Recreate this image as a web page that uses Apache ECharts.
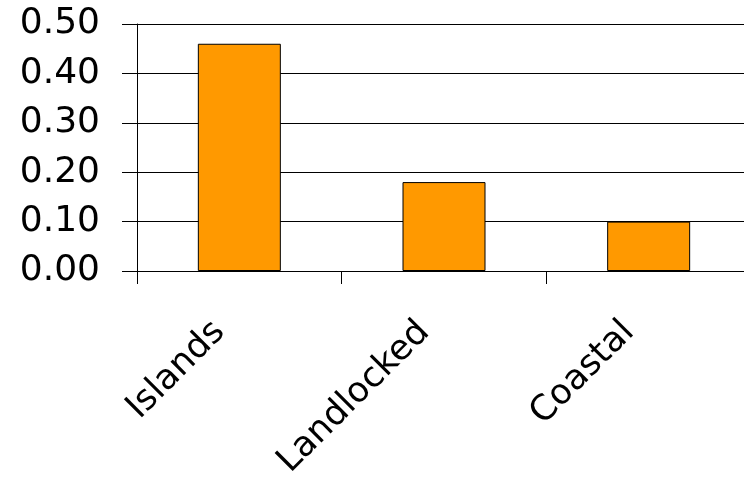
<!DOCTYPE html>
<html>
<head>
<meta charset="utf-8">
<script src="https://cdn.jsdelivr.net/npm/echarts@6/dist/echarts.min.js"></script>
<style>
html,body{margin:0;padding:0;background:#fff;overflow:hidden;}
#chart{width:744px;height:479px;}
</style>
</head>
<body>
<div id="chart"></div>
<script>
const categories = ['Islands', 'Landlocked', 'Coastal'];
const values = [0.46, 0.18, 0.10];
const yTicks = { min: 0, max: 0.5, interval: 0.1 };

const chart = echarts.init(document.getElementById('chart'), null, { renderer: 'canvas' });
chart.setOption({
  animation: false,
  backgroundColor: '#ffffff',
  grid: { left: 137, top: 24, bottom: 208, width: 614, containLabel: false, outerBoundsMode: 'none' },
  xAxis: {
    type: 'category',
    data: categories,
    boundaryGap: true,
    axisLine: { show: true, lineStyle: { color: '#000', width: 1 } },
    axisTick: { show: true, alignWithLabel: false, length: 13, inside: false, lineStyle: { color: '#000', width: 1 } },
    axisLabel: {
      interval: 0,
      rotate: 45,
      margin: 36,
      padding: [0, 28, 0, 0],
      color: '#000',
      fontFamily: 'DejaVu Sans',
      fontSize: 35
    },
    splitLine: { show: false }
  },
  yAxis: {
    type: 'value',
    min: yTicks.min,
    max: yTicks.max,
    interval: yTicks.interval,
    axisLine: { show: true, lineStyle: { color: '#000', width: 1 } },
    axisTick: { show: true, length: 15, lineStyle: { color: '#000', width: 1 } },
    axisLabel: {
      margin: 37,
      color: '#000',
      fontFamily: 'DejaVu Sans',
      fontSize: 36,
      formatter: v => v.toFixed(2)
    },
    splitLine: { show: true, lineStyle: { color: '#000', width: 1 } }
  },
  series: [{
    type: 'bar',
    data: values,
    barWidth: 83,
    itemStyle: { color: '#FF9900', borderColor: '#000', borderWidth: 1 }
  }]
});
</script>
</body>
</html>
